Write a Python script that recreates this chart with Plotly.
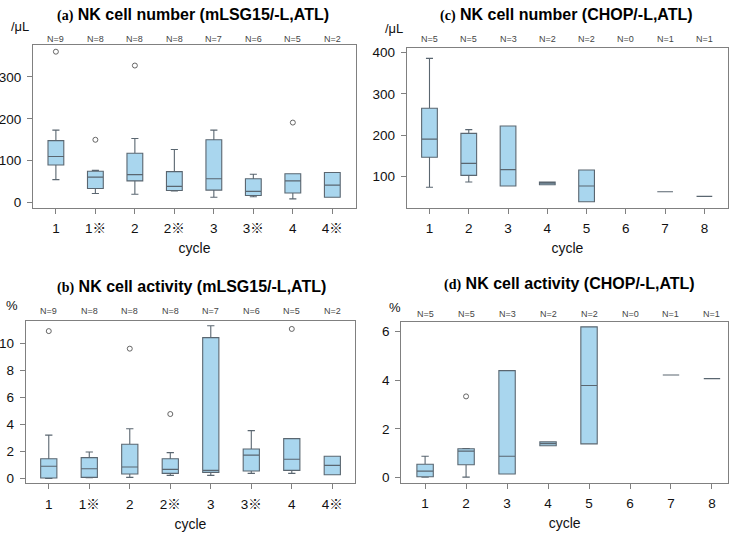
import plotly.graph_objects as go
from plotly.subplots import make_subplots

cycles_ab = ['1', '1※', '2', '2※', '3', '3※', '4', '4※']
cycles_cd = ['1', '2', '3', '4', '5', '6', '7', '8']

# (a) NK cell number, mLSG15/-L
a_n = [9, 8, 8, 8, 7, 6, 5, 2]
a_low = [55, 22, 20, 28, 13, 14, 9, 13]
a_q1 = [90, 34, 52, 29, 30, 17, 23, 13]
a_med = [110, 61, 67, 39, 57, 27, 52, 42]
a_q3 = [148, 75, 118, 74, 150, 57, 69, 72]
a_high = [173, 77, 153, 127, 173, 68, 69, 72]
a_out_x = ['1', '1※', '2', '4']
a_out_y = [360, 150, 327, 191]

# (b) NK cell activity, mLSG15/-L
b_n = [9, 8, 8, 8, 7, 6, 5, 2]
b_low = [0.0, 0.05, 0.07, 0.22, 0.22, 0.37, 0.37, 0.27]
b_q1 = [0.02, 0.07, 0.32, 0.37, 0.44, 0.54, 0.59, 0.27]
b_med = [0.89, 0.71, 0.84, 0.66, 0.59, 1.72, 1.41, 0.96]
b_q3 = [1.45, 1.53, 2.52, 1.45, 10.42, 2.17, 2.94, 1.63]
b_high = [3.2, 1.95, 3.67, 1.9, 11.3, 3.53, 2.94, 1.63]
b_out_x = ['1', '2', '2※', '4']
b_out_y = [10.9, 9.6, 4.76, 11.06]

# (c) NK cell number, CHOP/-L  (cycle 6 has no data)
c_n = [5, 5, 3, 2, 2, 0, 1, 1]
c_x = ['1', '2', '3', '4', '5', '7', '8']
c_low = [73, 86, 76, 79, 38, 62, 51]
c_q1 = [146, 102, 76, 79, 38, 62, 51]
c_med = [190, 131, 116, 83, 76, 62, 51]
c_q3 = [265, 204, 222, 86, 115, 62, 51]
c_high = [386, 213, 222, 86, 115, 62, 51]

# (d) NK cell activity, CHOP/-L
d_n = [5, 5, 3, 2, 2, 0, 1, 1]
d_x = ['1', '2', '3', '4', '5', '7', '8']
d_low = [0.02, 0.02, 0.15, 1.31, 1.39, 4.22, 4.07]
d_q1 = [0.04, 0.53, 0.15, 1.31, 1.39, 4.22, 4.07]
d_med = [0.27, 1.09, 0.88, 1.4, 3.79, 4.22, 4.07]
d_q3 = [0.55, 1.19, 4.4, 1.47, 6.2, 4.22, 4.07]
d_high = [0.88, 1.2, 4.4, 1.47, 6.2, 4.22, 4.07]
d_out_x = ['2']
d_out_y = [3.34]

FONT = 'Arial, Liberation Sans, Noto Sans CJK JP, sans-serif'
box_fill = '#a9d6ee'
box_line = '#5a6670'
frame = '#808080'

fig = make_subplots(rows=2, cols=2)

panels = [
    (1, 1, cycles_ab, a_low, a_q1, a_med, a_q3, a_high, a_out_x, a_out_y),
    (1, 2, c_x, c_low, c_q1, c_med, c_q3, c_high, [], []),
    (2, 1, cycles_ab, b_low, b_q1, b_med, b_q3, b_high, b_out_x, b_out_y),
    (2, 2, d_x, d_low, d_q1, d_med, d_q3, d_high, d_out_x, d_out_y),
]
for row, col, xs, lo, q1, med, q3, hi, ox, oy in panels:
    fig.add_trace(go.Box(
        x=xs, lowerfence=lo, q1=q1, median=med, q3=q3, upperfence=hi,
        boxpoints=False, width=0.4, whiskerwidth=0.45,
        fillcolor=box_fill, line=dict(color=box_line, width=1.1),
        showlegend=False), row=row, col=col)
    if ox:
        fig.add_trace(go.Scatter(
            x=ox, y=oy, mode='markers', showlegend=False,
            marker=dict(symbol='circle-open', size=5, color='#555555',
                        line=dict(width=0.9))), row=row, col=col)

ax_common = dict(showline=True, mirror=True, linecolor=frame, linewidth=1,
                 ticks='outside', ticklen=5, tickcolor=frame, showgrid=False,
                 zeroline=False, automargin=False,
                 tickfont=dict(family=FONT, size=13.5, color='#111'))

x_domains = {'xaxis': [0.0447, 0.4824], 'xaxis2': [0.5511, 0.9864],
             'xaxis3': [0.0348, 0.4810], 'xaxis4': [0.5438, 0.9864]}
y_domains = {'yaxis': [0.6098, 0.9156], 'yaxis2': [0.6092, 0.9105],
             'yaxis3': [0.0932, 0.3983], 'yaxis4': [0.0938, 0.3964]}
x_ranges = {'xaxis': [-0.58, 7.6], 'xaxis2': [-0.58, 7.6],
            'xaxis3': [-0.57, 7.56], 'xaxis4': [-0.58, 7.39]}
y_ranges = {'yaxis': [-12.6, 376], 'yaxis2': [22, 412],
            'yaxis3': [-0.37, 11.67], 'yaxis4': [-0.22, 6.41]}
y_ticks = {'yaxis': [0, 100, 200, 300], 'yaxis2': [100, 200, 300, 400],
           'yaxis3': [0, 2, 4, 6, 8, 10], 'yaxis4': [0, 2, 4, 6]}
x_cats = {'xaxis': cycles_ab, 'xaxis2': cycles_cd,
          'xaxis3': cycles_ab, 'xaxis4': cycles_cd}

# the reference mark is drawn with a CJK font so it comes out full width
mark = '<span style="font-family:Noto Sans CJK JP">※</span>'

for k in x_domains:
    cats = x_cats[k]
    fig.layout[k].update(
        domain=x_domains[k], range=x_ranges[k], type='category',
        categoryorder='array', categoryarray=cats,
        tickvals=cats, ticktext=[c.replace('※', mark) for c in cats],
        ticklabelstandoff=3,
        title=dict(text='cycle', standoff=7, font=dict(family=FONT, size=14, color='#111')),
        **ax_common)
for k in y_domains:
    fig.layout[k].update(
        domain=y_domains[k], range=y_ranges[k], tickvals=y_ticks[k],
        ticklabelstandoff=3, **ax_common)

titles = [
    ('(a)', 'NK cell number (mLSG15/-L,ATL)', 193, 15),
    ('(c)', 'NK cell number (CHOP/-L,ATL)', 566.5, 15),
    ('(b)', 'NK cell activity (mLSG15/-L,ATL)', 191.5, 287),
    ('(d)', 'NK cell activity (CHOP/-L,ATL)', 569.5, 283.5),
]
W, H = 738, 533
for tag, txt, px, py in titles:
    fig.add_annotation(
        x=px / W, y=1 - py / H, xref='paper', yref='paper', showarrow=False,
        xanchor='center', yanchor='middle',
        text='<b><span style="font-family:Liberation Serif, Times New Roman, serif;font-size:14px">'
             + tag + '</span> ' + txt + '</b>',
        font=dict(family=FONT, size=16, color='#000'))

units = [('/μL', 20, 27), ('/μL', 394, 28), ('%', 12.5, 305), ('%', 395.5, 307)]
for txt, px, py in units:
    fig.add_annotation(x=px / W, y=1 - py / H, xref='paper', yref='paper',
                       showarrow=False, xanchor='center', yanchor='middle',
                       text=txt, font=dict(family=FONT, size=13, color='#111'))

# N counts above each cycle (x given as category index)
n_labels = [('x', a_n, 38.7), ('x2', c_n, 39.3), ('x3', b_n, 311), ('x4', d_n, 314.3)]
for xref, ns, py in n_labels:
    for i, n in enumerate(ns):
        fig.add_annotation(x=i, y=1 - py / H, xref=xref, yref='paper',
                           showarrow=False, xanchor='center', yanchor='middle',
                           text='N=%d' % n,
                           font=dict(family=FONT, size=9, color='#444'))

fig.update_layout(
    width=W, height=H, margin=dict(l=0, r=0, t=0, b=0),
    plot_bgcolor='white', paper_bgcolor='white',
)

fig.write_html("out.html", config={'displayModeBar': False},
               post_script="document.body.style.margin='0';")
